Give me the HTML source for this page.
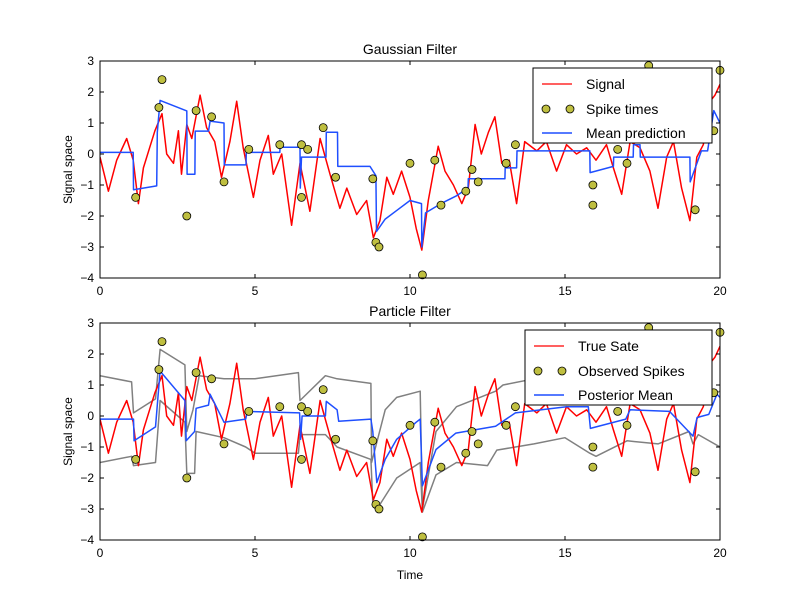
<!DOCTYPE html>
<html><head><meta charset="utf-8"><style>
body{margin:0;background:#fff;}
svg{display:block;font-family:"Liberation Sans",sans-serif;}
</style></head><body>
<svg id="c" width="800" height="600"></svg>
<script>
const signalT = [0,0.27,0.54,0.86,1.07,1.24,1.4,1.6,1.77,2.0,2.15,2.37,2.53,2.63,2.8,2.96,3.23,3.44,3.7,3.92,4.19,4.41,4.62,4.95,5.16,5.43,5.59,5.86,6.18,6.45,6.77,7.1,7.42,7.74,7.96,8.28,8.6,8.82,9.03,9.25,9.46,9.73,10.0,10.2,10.38,10.59,10.91,11.13,11.4,11.67,11.88,12.1,12.3,12.53,12.74,12.96,13.2,13.44,13.7,14.09,14.4,14.73,15.05,15.37,15.7,16.0,16.34,16.56,16.83,17.1,17.42,17.74,18.0,18.28,18.5,18.76,19.03,19.25,19.46,19.68,19.84,20];
const signalY = [-0.1,-1.2,-0.2,0.5,-0.2,-1.6,-0.45,0.2,0.75,1.3,0,-0.3,0.75,-0.65,0.95,0.5,1.9,0.85,0.4,-0.75,0.4,1.7,0.2,-1.4,-0.2,0.6,-0.65,0,-2.3,-0.3,-1.85,0.5,-0.65,-1.75,-1.1,-1.95,-1.5,-2.7,-2.15,-0.75,-1.3,-0.55,-1.4,-2.4,-3.1,-1.5,0.25,-0.55,-1.0,-1.6,-1.1,0.95,0,0.7,1.2,-0.3,-0.2,-1.6,0.4,0.1,0.4,-0.55,0.3,0,0.2,-0.2,0.3,-0.45,-1.3,0.4,0.2,-0.55,-1.75,-0.1,0.4,-1.1,-2.15,-0.1,0.3,1.7,1.9,2.25];
const spikeT = [1.15,1.9,2.0,2.8,3.1,3.6,4.0,4.8,5.8,6.5,6.5,6.7,7.2,7.6,8.8,8.9,9.0,10.0,10.4,10.8,11.0,11.8,12.0,12.2,13.1,13.4,15.9,15.9,16.2,16.7,17.0,17.7,19.2,19.6,19.8,20.0];
const spikeY = [-1.4,1.5,2.4,-2.0,1.4,1.2,-0.9,0.15,0.3,-1.4,0.3,0.15,0.85,-0.75,-0.8,-2.85,-3.0,-0.3,-3.9,-0.2,-1.65,-1.2,-0.5,-0.9,-0.3,0.3,-1.0,-1.65,0.5,0.15,-0.3,2.85,-1.8,1.8,0.75,2.7];
const gaussT = [0,1.07,1.08,1.83,1.85,1.94,2.8,2.81,3.06,3.07,3.5,3.55,4.0,4.01,4.71,4.72,5.8,5.81,6.45,6.46,6.5,6.51,7.29,7.3,7.66,7.67,8.71,8.9,8.92,9.2,9.6,10.0,10.37,10.38,10.5,11.0,11.5,11.87,11.88,13.06,13.07,13.44,13.45,15.8,15.81,16.56,16.57,17.2,17.21,17.42,17.43,19.03,19.04,19.4,19.6,19.8,20];
const gaussY = [0.05,0.05,-1.15,-1.03,0.7,1.73,1.39,-0.65,-0.65,0.74,0.74,1.06,1.0,-0.35,-0.35,0.05,0.05,0.22,0.22,-1.1,-0.1,-0.1,-0.1,0.7,0.7,-0.4,-0.4,-0.7,-2.5,-2.1,-1.8,-1.5,-1.6,-3.0,-1.9,-1.6,-1.35,-1.1,-0.8,-0.8,-0.45,-0.45,0.1,0.1,-0.6,-0.4,-0.1,-0.1,0.3,0.3,-0.1,-0.1,-0.9,0.1,0.1,1.4,1.0];
const postT = [0,1.08,1.1,1.79,1.94,2.74,2.78,3.05,3.1,3.5,3.55,4.0,4.7,4.75,6.44,6.47,6.52,7.27,7.3,7.65,7.7,8.74,8.8,8.93,9.2,9.57,10.2,10.33,10.4,10.84,11.48,12.76,13.4,15.05,15.75,15.82,16.96,17.1,18.37,19.13,19.26,19.64,19.9,20];
const postY = [-0.1,-0.1,-0.8,-0.35,1.45,0.5,-0.8,-0.5,0.25,0.35,0.7,-0.2,-0.1,0.15,0.1,-0.75,0,0,0.47,0.2,-0.17,-0.1,-0.5,-2.15,-1.4,-0.75,-0.2,-0.1,-2.25,-1.08,-0.55,-0.33,0.1,0.3,0.3,-0.4,-0.1,0.2,0.15,-0.65,-0.05,0.05,0.7,0.6];
const upT = [0,1.02,1.08,1.79,1.94,2.74,2.8,3.0,3.2,4.0,5,6.4,6.45,7.27,7.65,8.74,8.76,9.2,9.57,10.33,10.4,10.84,11.5,12.76,13,14,15,15.8,16,17,18,19,20];
const upY = [1.3,1.1,0.1,0.55,2.15,1.65,-0.5,0.2,1.3,1.2,1.2,1.4,0.5,1.3,1.2,1.05,-1.5,0.2,0.6,0.8,-3.0,-0.5,0.3,0.8,1.0,1.2,1.5,1.5,0.6,1.0,0.6,0.4,0.8];
const loT = [0,1.02,1.08,1.79,1.94,2.74,2.8,3.05,3.1,4,4.7,5,6.4,6.45,7.27,7.65,8.74,8.8,9.0,9.57,10.33,10.4,10.84,11.5,12.5,12.8,13.4,14,15,15.8,16,17,18,19,19.13,19.3,20];
const loY = [-1.5,-1.3,-1.6,-1.5,0.5,-0.2,-1.85,-1.85,-0.5,-0.7,-1.0,-1.2,-1.2,-0.6,-0.6,-1.0,-1.4,-2.8,-2.9,-2.0,-1.5,-3.1,-1.9,-1.5,-1.6,-1.1,-1.0,-0.9,-0.7,-1.2,-1.3,-0.8,-0.9,-0.5,-0.9,-0.6,-1.0];
const xTicks = [0,5,10,15,20];
const yTicks = [-4,-3,-2,-1,0,1,2,3];

const svg = document.getElementById('c');
const NS = 'http://www.w3.org/2000/svg';
function mk(tag, attrs, parent){const e=document.createElementNS(NS,tag);for(const k in attrs)e.setAttribute(k,attrs[k]);(parent||svg).appendChild(e);return e;}
const X0=100,X1=720;
function panel(top, title, legendLabels, legendBox, isPF){
  const Y0=top, Y1=top+217;
  const sx=t=>X0+(t-0)/20*(X1-X0);
  const sy=v=>Y0+(3-v)/7*(Y1-Y0);
  const g=mk('g',{});
  
  
  const clip=mk('clipPath',{id:'cl'+top},g);mk('rect',{x:X0,y:Y0,width:X1-X0,height:Y1-Y0},clip);
  const pg=mk('g',{'clip-path':'url(#cl'+top+')'},g);
  function line(ts,vs,col,w,name){let d='';for(let i=0;i<ts.length;i++)d+=(i?'L':'M')+sx(ts[i]).toFixed(1)+','+sy(vs[i]).toFixed(1);const p=mk('path',{d:d,fill:'none',stroke:col,'stroke-width':w,'stroke-linejoin':'round'},pg);}
  if(isPF){line(upT,upY,'#808080',1.5,'particle-upper');line(loT,loY,'#808080',1.5,'particle-lower');}
  line(signalT,signalY,'#ff0000',1.5,'signal-line');
  if(isPF) line(postT,postY,'#1f4fff',1.5,'posterior-mean-line'); else line(gaussT,gaussY,'#1f4fff',1.5,'mean-prediction-line');
  for(let i=0;i<spikeT.length;i++){const c=mk('circle',{cx:sx(spikeT[i]),cy:sy(spikeY[i]),r:4,fill:'#bfbf40',stroke:'#000','stroke-width':0.8},g);}
  mk('rect',{x:X0,y:Y0,width:X1-X0,height:Y1-Y0,fill:'none',stroke:'#000','stroke-width':1},g);
  xTicks.forEach(t=>{const x=sx(t);mk('line',{x1:x,x2:x,y1:Y1,y2:Y1-4,stroke:'#000'},g);mk('line',{x1:x,x2:x,y1:Y0,y2:Y0+4,stroke:'#000'},g);const tx=mk('text',{x:x,y:Y1+17,'text-anchor':'middle','font-size':12},g);tx.textContent=t;});
  yTicks.forEach(v=>{const y=sy(v);mk('line',{x1:X0,x2:X0+4,y1:y,y2:y,stroke:'#000'},g);mk('line',{x1:X1,x2:X1-4,y1:y,y2:y,stroke:'#000'},g);const tx=mk('text',{x:X0-6,y:y+4,'text-anchor':'end','font-size':12},g);tx.textContent=v<0?'\u2212'+(-v):v;});
  const ti=mk('text',{x:410,y:Y0-7,'text-anchor':'middle','font-size':14},g);ti.textContent=title;
  const yl=mk('text',{x:72,y:(Y0+Y1)/2,'text-anchor':'middle','font-size':12,transform:'rotate(-90 72 '+((Y0+Y1)/2)+')'},g);yl.textContent='Signal space';
  const [lx,ly,lw,lh]=legendBox;
  const lg=mk('g',{},g);
  mk('rect',{x:lx,y:ly,width:lw,height:lh,fill:'#fff',stroke:'#000'},lg);
  const rows=[ly+16,ly+41,ly+65];
  mk('line',{x1:lx+9,x2:lx+39,y1:rows[0],y2:rows[0],stroke:'#ff0000','stroke-width':1.2},lg);
  mk('circle',{cx:lx+13,cy:rows[1],r:4,fill:'#bfbf40',stroke:'#000','stroke-width':0.8},lg);
  mk('circle',{cx:lx+37,cy:rows[1],r:4,fill:'#bfbf40',stroke:'#000','stroke-width':0.8},lg);
  mk('line',{x1:lx+9,x2:lx+39,y1:rows[2],y2:rows[2],stroke:'#1f4fff','stroke-width':1.5},lg);
  legendLabels.forEach((s,i)=>{const t=mk('text',{x:lx+53,y:rows[i]+5,'font-size':14},lg);t.textContent=s;});
}
panel(61,'Gaussian Filter',['Signal','Spike times','Mean prediction'],[533,68,179,75],false);
panel(323,'Particle Filter',['True Sate','Observed Spikes','Posterior Mean'],[525,330,187,75],true);
const xl=mk('text',{x:410,y:579,'text-anchor':'middle','font-size':12});xl.textContent='Time';


</script>
</body></html>
